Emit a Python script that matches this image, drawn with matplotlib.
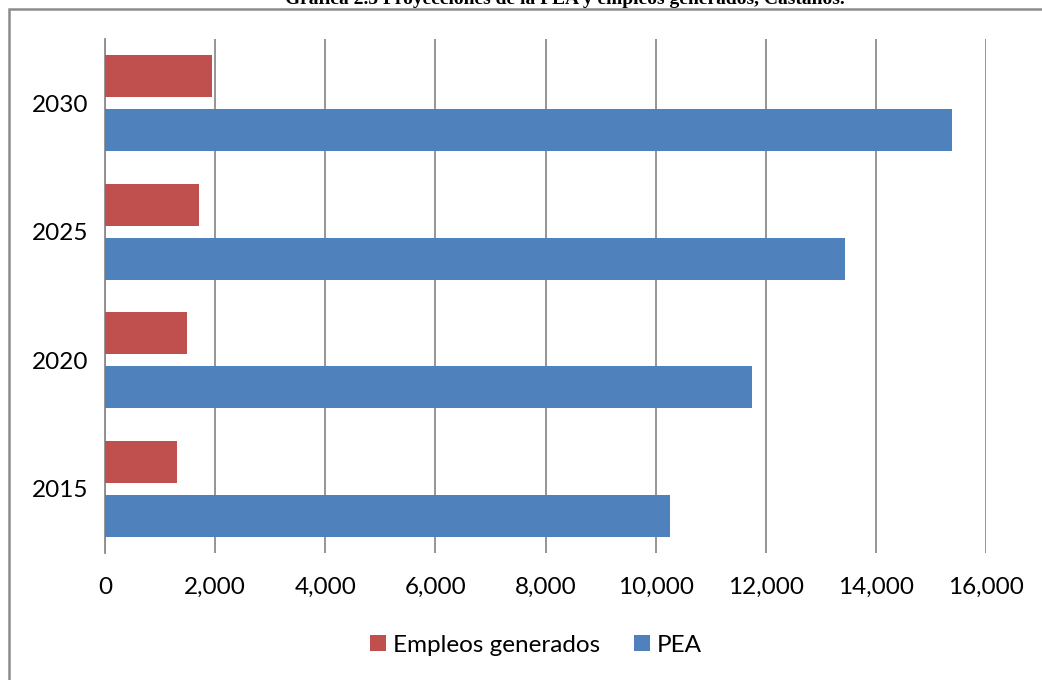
import matplotlib.pyplot as plt
import numpy as np
from matplotlib.patches import Rectangle

# data
years = ['2015', '2020', '2025', '2030']
pea = [10270, 11746, 13448, 15378]
empleos = [1302, 1489, 1707, 1943]

red = '#C0504D'
blue = '#4F81BD'
grid_col = '#8C8C8C'

plt.rcParams['font.family'] = ['Lato', 'DejaVu Sans']

fig = plt.figure(figsize=(10.42, 6.8), dpi=100)
ax = fig.add_axes([105 / 1042, 1 - 553 / 680, 881 / 1042, 514 / 680])

y = np.arange(len(years))
h = 0.33
ax.barh(y + 0.21, empleos, height=h, color=red, label='Empleos generados', zorder=3)
ax.barh(y - 0.21, pea, height=h, color=blue, label='PEA', zorder=3)

ax.set_xlim(0, 16000)
ax.set_ylim(-0.5, len(years) - 0.5)
ax.set_xticks(np.arange(0, 16001, 2000))
ax.set_xticklabels([f'{v:,}' for v in range(0, 16001, 2000)])
ax.set_yticks(y)
ax.set_yticklabels(years)
ax.tick_params(axis='both', length=0, labelsize=17.5, colors='black')
ax.tick_params(axis='x', pad=17)
ax.tick_params(axis='y', pad=12)
ax.grid(axis='x', color=grid_col, linewidth=1.3, zorder=0)
for s in ['top', 'right', 'bottom']:
    ax.spines[s].set_visible(False)
ax.spines['left'].set_color(grid_col)
ax.spines['left'].set_linewidth(1.3)

handles, labels = ax.get_legend_handles_labels()
fig.legend(handles, labels, loc='center', bbox_to_anchor=(536 / 1042, 1 - 645 / 680),
           ncol=2, frameon=False, fontsize=17.5, handlelength=0.65, handleheight=0.65,
           handletextpad=0.3, columnspacing=1.4)

# outer frame, cut off at the right and bottom
fig.patches.append(Rectangle((9 / 1042, -0.1), 1.2, 1 - 9 / 680 + 0.1,
                             transform=fig.transFigure, fill=False,
                             edgecolor='#8C8C8C', linewidth=1.8))

# title, partly cut off at the top as in the source page
fig.text(0.542, 1 - 4 / 680, 'Gráfica 2.5 Proyecciones de la PEA y empleos generados, Castaños.',
         ha='center', va='baseline', fontsize=14, fontweight='bold',
         family='Liberation Serif')

fig.savefig('out.png', dpi=100)
